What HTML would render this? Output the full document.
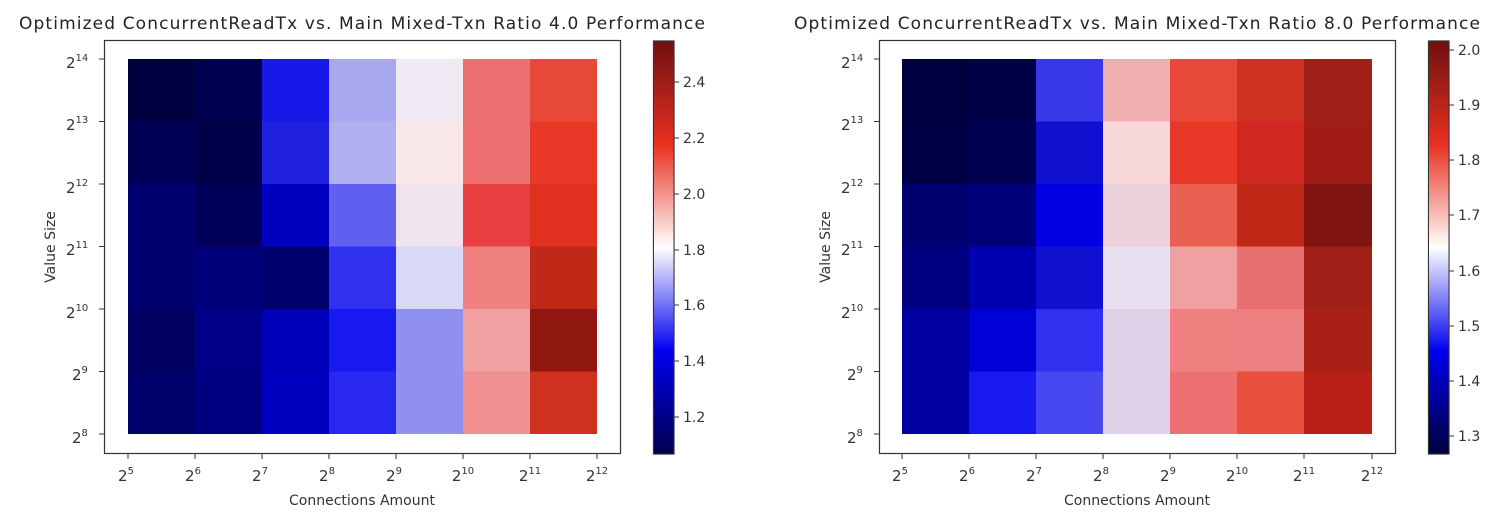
<!DOCTYPE html>
<html><head><meta charset="utf-8"><style>
html,body{margin:0;padding:0;background:#fff;}
svg{display:block;font-family:"DejaVu Sans","Liberation Sans",sans-serif;}
</style></head><body>
<svg width="1500" height="525" viewBox="0 0 1500 525" xmlns="http://www.w3.org/2000/svg">
<defs>
<linearGradient id="seis" x1="0" y1="1" x2="0" y2="0">
<stop offset="0" stop-color="#00004d"/><stop offset="0.25" stop-color="#0000f0"/><stop offset="0.5" stop-color="#ffffff"/><stop offset="0.75" stop-color="#e83020"/><stop offset="1" stop-color="#701010"/>
</linearGradient>
<linearGradient id="seis2" x1="0" y1="1" x2="0" y2="0">
<stop offset="0" stop-color="#000040"/><stop offset="0.25" stop-color="#0000f0"/><stop offset="0.5" stop-color="#ffffff"/><stop offset="0.75" stop-color="#e83020"/><stop offset="1" stop-color="#701010"/>
</linearGradient>
</defs>
<text x="362" y="29" font-size="17" text-anchor="middle" fill="#222" textLength="686" lengthAdjust="spacing">Optimized ConcurrentReadTx vs. Main Mixed-Txn Ratio 4.0 Performance</text>
<text x="1137" y="29" font-size="17" text-anchor="middle" fill="#222" textLength="686" lengthAdjust="spacing">Optimized ConcurrentReadTx vs. Main Mixed-Txn Ratio 8.0 Performance</text>
<g shape-rendering="crispEdges">
<rect x="128" y="59" width="67.5" height="63" fill="#000040"/><rect x="195" y="59" width="67.5" height="63" fill="#000050"/><rect x="262" y="59" width="67.5" height="63" fill="#1818e8"/><rect x="329" y="59" width="67.5" height="63" fill="#a8a8f0"/><rect x="396" y="59" width="67.5" height="63" fill="#f0eaf4"/><rect x="463" y="59" width="67.5" height="63" fill="#ec7070"/><rect x="530" y="59" width="67" height="63" fill="#e84838"/>
<rect x="128" y="121.5" width="67.5" height="63" fill="#000055"/><rect x="195" y="121.5" width="67.5" height="63" fill="#00004a"/><rect x="262" y="121.5" width="67.5" height="63" fill="#2020e0"/><rect x="329" y="121.5" width="67.5" height="63" fill="#b0b0f0"/><rect x="396" y="121.5" width="67.5" height="63" fill="#f8e8e8"/><rect x="463" y="121.5" width="67.5" height="63" fill="#ee7070"/><rect x="530" y="121.5" width="67" height="63" fill="#e83828"/>
<rect x="128" y="184" width="67.5" height="63" fill="#000070"/><rect x="195" y="184" width="67.5" height="63" fill="#000058"/><rect x="262" y="184" width="67.5" height="63" fill="#0000c0"/><rect x="329" y="184" width="67.5" height="63" fill="#6060f0"/><rect x="396" y="184" width="67.5" height="63" fill="#f0e4ec"/><rect x="463" y="184" width="67.5" height="63" fill="#e84040"/><rect x="530" y="184" width="67" height="63" fill="#e03020"/>
<rect x="128" y="246.5" width="67.5" height="63" fill="#000070"/><rect x="195" y="246.5" width="67.5" height="63" fill="#00007a"/><rect x="262" y="246.5" width="67.5" height="63" fill="#000070"/><rect x="329" y="246.5" width="67.5" height="63" fill="#3030f0"/><rect x="396" y="246.5" width="67.5" height="63" fill="#d8d8f8"/><rect x="463" y="246.5" width="67.5" height="63" fill="#f08080"/><rect x="530" y="246.5" width="67" height="63" fill="#c02818"/>
<rect x="128" y="309" width="67.5" height="63" fill="#000060"/><rect x="195" y="309" width="67.5" height="63" fill="#000088"/><rect x="262" y="309" width="67.5" height="63" fill="#0000b8"/><rect x="329" y="309" width="67.5" height="63" fill="#1818f0"/><rect x="396" y="309" width="67.5" height="63" fill="#9090f0"/><rect x="463" y="309" width="67.5" height="63" fill="#f0a0a0"/><rect x="530" y="309" width="67" height="63" fill="#901810"/>
<rect x="128" y="371.5" width="67.5" height="62.5" fill="#00006a"/><rect x="195" y="371.5" width="67.5" height="62.5" fill="#000080"/><rect x="262" y="371.5" width="67.5" height="62.5" fill="#0000c0"/><rect x="329" y="371.5" width="67.5" height="62.5" fill="#2828f0"/><rect x="396" y="371.5" width="67.5" height="62.5" fill="#9090f0"/><rect x="463" y="371.5" width="67.5" height="62.5" fill="#f09090"/><rect x="530" y="371.5" width="67" height="62.5" fill="#d03020"/>
<rect x="902" y="59" width="67.5" height="63" fill="#000040"/><rect x="969" y="59" width="67.5" height="63" fill="#000048"/><rect x="1036" y="59" width="67.5" height="63" fill="#3838e8"/><rect x="1103" y="59" width="67.5" height="63" fill="#f0b0b0"/><rect x="1170" y="59" width="67.5" height="63" fill="#e84838"/><rect x="1237" y="59" width="67.5" height="63" fill="#d03020"/><rect x="1304" y="59" width="68" height="63" fill="#a02018"/>
<rect x="902" y="121.5" width="67.5" height="63" fill="#000045"/><rect x="969" y="121.5" width="67.5" height="63" fill="#000050"/><rect x="1036" y="121.5" width="67.5" height="63" fill="#1010d0"/><rect x="1103" y="121.5" width="67.5" height="63" fill="#f8d8d8"/><rect x="1170" y="121.5" width="67.5" height="63" fill="#e83828"/><rect x="1237" y="121.5" width="67.5" height="63" fill="#d02820"/><rect x="1304" y="121.5" width="68" height="63" fill="#a01c14"/>
<rect x="902" y="184" width="67.5" height="63" fill="#000070"/><rect x="969" y="184" width="67.5" height="63" fill="#00007a"/><rect x="1036" y="184" width="67.5" height="63" fill="#0000e0"/><rect x="1103" y="184" width="67.5" height="63" fill="#ecd0dc"/><rect x="1170" y="184" width="67.5" height="63" fill="#e86050"/><rect x="1237" y="184" width="67.5" height="63" fill="#c02818"/><rect x="1304" y="184" width="68" height="63" fill="#801410"/>
<rect x="902" y="246.5" width="67.5" height="63" fill="#000080"/><rect x="969" y="246.5" width="67.5" height="63" fill="#0000b0"/><rect x="1036" y="246.5" width="67.5" height="63" fill="#1010d0"/><rect x="1103" y="246.5" width="67.5" height="63" fill="#e8e0f0"/><rect x="1170" y="246.5" width="67.5" height="63" fill="#f0a0a0"/><rect x="1237" y="246.5" width="67.5" height="63" fill="#e87070"/><rect x="1304" y="246.5" width="68" height="63" fill="#a02018"/>
<rect x="902" y="309" width="67.5" height="63" fill="#0000a0"/><rect x="969" y="309" width="67.5" height="63" fill="#0000d8"/><rect x="1036" y="309" width="67.5" height="63" fill="#3030f0"/><rect x="1103" y="309" width="67.5" height="63" fill="#e0d0e8"/><rect x="1170" y="309" width="67.5" height="63" fill="#f08080"/><rect x="1237" y="309" width="67.5" height="63" fill="#ec8080"/><rect x="1304" y="309" width="68" height="63" fill="#a82018"/>
<rect x="902" y="371.5" width="67.5" height="62.5" fill="#0000a0"/><rect x="969" y="371.5" width="67.5" height="62.5" fill="#1818f0"/><rect x="1036" y="371.5" width="67.5" height="62.5" fill="#4848f0"/><rect x="1103" y="371.5" width="67.5" height="62.5" fill="#e0d0e8"/><rect x="1170" y="371.5" width="67.5" height="62.5" fill="#ec7070"/><rect x="1237" y="371.5" width="67.5" height="62.5" fill="#e85040"/><rect x="1304" y="371.5" width="68" height="62.5" fill="#b82018"/>
</g>
<g fill="none" stroke="#333" stroke-width="1.2">
<rect x="104.5" y="40.5" width="516" height="413"/>
<rect x="879.5" y="40.5" width="516" height="413"/>
<rect x="653.5" y="41" width="20.5" height="413"/>
<rect x="1428.5" y="41" width="20.5" height="413"/>
</g>
<rect x="654" y="41.5" width="19.5" height="412" fill="url(#seis)"/>
<rect x="1429" y="41.5" width="19.5" height="412" fill="url(#seis2)"/>
<g stroke="#333" stroke-width="1">
<path d="M128 454v5M195 454v5M262 454v5M329 454v5M396 454v5M463 454v5M530 454v5M597 454v5"/>
<path d="M99 59h5M99 121.5h5M99 184h5M99 246.5h5M99 309h5M99 371.5h5M99 434h5"/>
<path d="M902 454v5M969 454v5M1036 454v5M1103 454v5M1170 454v5M1237 454v5M1304 454v5M1372 454v5"/>
<path d="M874 59h5M874 121.5h5M874 184h5M874 246.5h5M874 309h5M874 371.5h5M874 434h5"/>
<path d="M674 82h5M674 138h5M674 194h5M674 250h5M674 305h5M674 361h5M674 417h5"/>
<path d="M1449 50h5M1449 105h5M1449 160h5M1449 215h5M1449 271h5M1449 326h5M1449 381h5M1449 436h5"/>
</g>
<g font-size="15" fill="#333">
<g text-anchor="middle">
<text x="126" y="481">2<tspan font-size="10" dy="-7">5</tspan></text>
<text x="193" y="481">2<tspan font-size="10" dy="-7">6</tspan></text>
<text x="260" y="481">2<tspan font-size="10" dy="-7">7</tspan></text>
<text x="327" y="481">2<tspan font-size="10" dy="-7">8</tspan></text>
<text x="394" y="481">2<tspan font-size="10" dy="-7">9</tspan></text>
<text x="463" y="481">2<tspan font-size="10" dy="-7">10</tspan></text>
<text x="530" y="481">2<tspan font-size="10" dy="-7">11</tspan></text>
<text x="597" y="481">2<tspan font-size="10" dy="-7">12</tspan></text>
<text x="900" y="481">2<tspan font-size="10" dy="-7">5</tspan></text>
<text x="967" y="481">2<tspan font-size="10" dy="-7">6</tspan></text>
<text x="1034" y="481">2<tspan font-size="10" dy="-7">7</tspan></text>
<text x="1101" y="481">2<tspan font-size="10" dy="-7">8</tspan></text>
<text x="1168" y="481">2<tspan font-size="10" dy="-7">9</tspan></text>
<text x="1237" y="481">2<tspan font-size="10" dy="-7">10</tspan></text>
<text x="1304" y="481">2<tspan font-size="10" dy="-7">11</tspan></text>
<text x="1372" y="481">2<tspan font-size="10" dy="-7">12</tspan></text>
</g>
<g>
<text x="66" y="68">2<tspan font-size="10" dy="-7">14</tspan></text>
<text x="66" y="130">2<tspan font-size="10" dy="-7">13</tspan></text>
<text x="66" y="193">2<tspan font-size="10" dy="-7">12</tspan></text>
<text x="66" y="255">2<tspan font-size="10" dy="-7">11</tspan></text>
<text x="66" y="318">2<tspan font-size="10" dy="-7">10</tspan></text>
<text x="72" y="380">2<tspan font-size="10" dy="-7">9</tspan></text>
<text x="72" y="443">2<tspan font-size="10" dy="-7">8</tspan></text>
<text x="841" y="68">2<tspan font-size="10" dy="-7">14</tspan></text>
<text x="841" y="130">2<tspan font-size="10" dy="-7">13</tspan></text>
<text x="841" y="193">2<tspan font-size="10" dy="-7">12</tspan></text>
<text x="841" y="255">2<tspan font-size="10" dy="-7">11</tspan></text>
<text x="841" y="318">2<tspan font-size="10" dy="-7">10</tspan></text>
<text x="847" y="380">2<tspan font-size="10" dy="-7">9</tspan></text>
<text x="847" y="443">2<tspan font-size="10" dy="-7">8</tspan></text>
</g>
<g font-size="14">
<text x="683" y="87">2.4</text><text x="683" y="143">2.2</text><text x="683" y="199">2.0</text><text x="683" y="255">1.8</text><text x="683" y="310">1.6</text><text x="683" y="366">1.4</text><text x="683" y="422">1.2</text>
<text x="1458" y="55">2.0</text><text x="1458" y="110">1.9</text><text x="1458" y="165">1.8</text><text x="1458" y="220">1.7</text><text x="1458" y="276">1.6</text><text x="1458" y="331">1.5</text><text x="1458" y="386">1.4</text><text x="1458" y="441">1.3</text>
</g>
<g font-size="14">
<text x="362" y="505" text-anchor="middle">Connections Amount</text>
<text x="1137" y="505" text-anchor="middle">Connections Amount</text>
<text transform="translate(55 247) rotate(-90)" text-anchor="middle">Value Size</text>
<text transform="translate(830 247) rotate(-90)" text-anchor="middle">Value Size</text>
</g>
</g>
</svg>
</body></html>
